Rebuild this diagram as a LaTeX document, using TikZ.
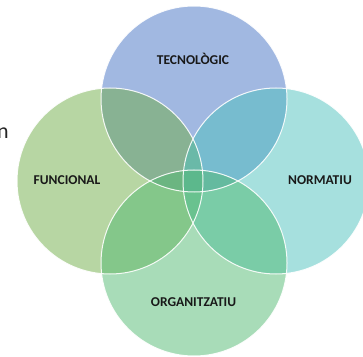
\documentclass[tikz,border=0pt]{standalone}
\usepackage{fontspec}
\setmainfont{Carlito}
\usepackage{tikz}

\definecolor{TecBlue}{HTML}{4472C4}
\definecolor{FunGreen}{HTML}{70AD47}
\definecolor{NorTeal}{HTML}{4DC1BD}
\definecolor{OrgGreen}{HTML}{51B971}

\begin{document}
\begin{tikzpicture}[x=1pt, y=1pt,
	venn/.style={circle, minimum size=186pt, inner sep=0pt, fill opacity=0.5},
	lbl/.style={font=\fontsize{13.5}{16}\selectfont\bfseries, text=black!90, inner sep=0pt}]

\useasboundingbox (0,0) rectangle (363,356);

\node[venn, fill=TecBlue] (tecnologic) at (194,257) {};
\node[venn, fill=FunGreen] (funcional) at (110,175) {};
\node[venn, fill=NorTeal] (normatiu) at (276,175) {};
\node[venn, fill=OrgGreen] (organitzatiu) at (194,93) {};

\foreach \n in {tecnologic,funcional,normatiu,organitzatiu}
	\draw[white, line width=1pt, draw opacity=0.9] (\n.center) circle (93);

\node[lbl] (lbltec) at (193,297) {TECNOLÒGIC};
\node[lbl] (lblfun) at (67,176) {FUNCIONAL};
\node[lbl] (lblnor) at (320,176) {NORMATIU};
\node[lbl] (lblorg) at (193.5,54) {ORGANITZATIU};

\node[anchor=base east, inner sep=0pt, font=\fontsize{22}{26}\selectfont, text=black!85] (cut) at (9,217) {n};

%\draw (0,0) rectangle (363,356);

\end{tikzpicture}
\end{document}
